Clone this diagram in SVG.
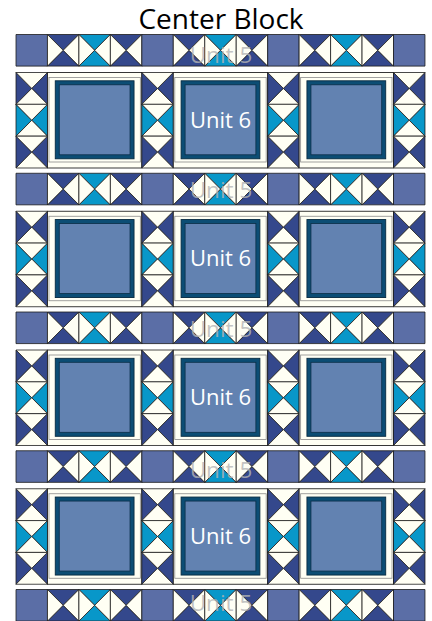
<svg xmlns="http://www.w3.org/2000/svg" xmlns:xlink="http://www.w3.org/1999/xlink" width="432" height="621" viewBox="0 0 432 621">
<style>
.cr{fill:#fffff4}
.nv{fill:#34488c}
.cy{fill:#0897c9}
.sq{fill:#5b6ea6}
.ln{stroke:#1c1c1c;stroke-width:0.8;stroke-linejoin:round}
.title{font-family:"Open Sans","Liberation Sans",sans-serif;font-size:28px;fill:#000;text-anchor:middle}
.u6{font-family:"Open Sans","Liberation Sans",sans-serif;font-size:22px;fill:#ffffff;text-anchor:middle}
.u5{font-family:"Open Sans","Liberation Sans",sans-serif;font-size:22.5px;fill:#b4b4b4;fill-opacity:0.8;text-anchor:middle}
</style>
<defs>
<g id="hN" class="ln">
<polygon class="nv" points="0,0 31.46,0 15.73,15.8"/>
<polygon class="nv" points="0,31.6 31.46,31.6 15.73,15.8"/>
<polygon class="cr" points="0,0 15.73,15.8 0,31.6"/>
<polygon class="cr" points="31.46,0 15.73,15.8 31.46,31.6"/>
</g>
<g id="hC" class="ln">
<polygon class="cy" points="0,0 31.46,0 15.73,15.8"/>
<polygon class="cy" points="0,31.6 31.46,31.6 15.73,15.8"/>
<polygon class="cr" points="0,0 15.73,15.8 0,31.6"/>
<polygon class="cr" points="31.46,0 15.73,15.8 31.46,31.6"/>
</g>
<rect id="sq" class="sq ln" x="0" y="0" width="31.46" height="31.6"/>
<g id="vN" class="ln">
<polygon class="nv" points="0,0 15.73,15.915 0,31.83"/>
<polygon class="nv" points="31.46,0 15.73,15.915 31.46,31.83"/>
<polygon class="cr" points="0,0 31.46,0 15.73,15.915"/>
<polygon class="cr" points="0,31.83 31.46,31.83 15.73,15.915"/>
</g>
<g id="vC" class="ln">
<polygon class="cy" points="0,0 15.73,15.915 0,31.83"/>
<polygon class="cy" points="31.46,0 15.73,15.915 31.46,31.83"/>
<polygon class="cr" points="0,0 31.46,0 15.73,15.915"/>
<polygon class="cr" points="0,31.83 31.46,31.83 15.73,15.915"/>
</g>
<g id="vcol">
<use xlink:href="#vN" href="#vN"/>
<use xlink:href="#vC" href="#vC" y="31.83"/>
<use xlink:href="#vN" href="#vN" y="63.66"/>
</g>
<g id="frame">
<rect x="0" y="0" width="94.38" height="95.5" fill="#fffff4" stroke="#222" stroke-width="0.9"/>
<rect x="1.5" y="5" width="91.38" height="84.5" fill="none" stroke="#8a8a8a" stroke-width="0.8"/>
<rect x="7.8" y="8.3" width="78.78" height="78" fill="#0c4d74" stroke="#062a40" stroke-width="0.9"/>
<rect x="11.8" y="12.3" width="70.78" height="70" fill="#6282b1" stroke="#0a2e48" stroke-width="0.8"/>
</g>
<g id="u5row">
<use xlink:href="#sq" href="#sq" x="0"/>
<use xlink:href="#hN" href="#hN" x="31.46"/>
<use xlink:href="#hC" href="#hC" x="62.92"/>
<use xlink:href="#hN" href="#hN" x="94.38"/>
<use xlink:href="#sq" href="#sq" x="125.84"/>
<use xlink:href="#hN" href="#hN" x="157.3"/>
<use xlink:href="#hC" href="#hC" x="188.76"/>
<use xlink:href="#hN" href="#hN" x="220.22"/>
<use xlink:href="#sq" href="#sq" x="251.68"/>
<use xlink:href="#hN" href="#hN" x="283.14"/>
<use xlink:href="#hC" href="#hC" x="314.6"/>
<use xlink:href="#hN" href="#hN" x="346.06"/>
<use xlink:href="#sq" href="#sq" x="377.52"/>
</g>
<g id="u6row">
<use xlink:href="#vcol" href="#vcol" x="0"/>
<use xlink:href="#frame" href="#frame" x="31.46"/>
<use xlink:href="#vcol" href="#vcol" x="125.84"/>
<use xlink:href="#frame" href="#frame" x="157.3"/>
<use xlink:href="#vcol" href="#vcol" x="251.68"/>
<use xlink:href="#frame" href="#frame" x="283.14"/>
<use xlink:href="#vcol" href="#vcol" x="377.52"/>
</g>
</defs>
<rect width="432" height="621" fill="#ffffff"/>
<g id="title"><text class="title" x="221" y="29">Center Block</text></g>
<g id="unit5-1" transform="translate(16,34.5)"><use xlink:href="#u5row" href="#u5row"/><text class="u5" x="205" y="28">Unit 5</text></g>
<g id="unit6-1" transform="translate(16,72.5)"><use xlink:href="#u6row" href="#u6row"/><text class="u6" x="204.5" y="55">Unit 6</text></g>
<g id="unit5-2" transform="translate(16,173.25)"><use xlink:href="#u5row" href="#u5row"/><text class="u5" x="205" y="25">Unit 5</text></g>
<g id="unit6-2" transform="translate(16,211.25)"><use xlink:href="#u6row" href="#u6row"/><text class="u6" x="204.5" y="55">Unit 6</text></g>
<g id="unit5-3" transform="translate(16,312)"><use xlink:href="#u5row" href="#u5row"/><text class="u5" x="205" y="25">Unit 5</text></g>
<g id="unit6-3" transform="translate(16,350)"><use xlink:href="#u6row" href="#u6row"/><text class="u6" x="204.5" y="55">Unit 6</text></g>
<g id="unit5-4" transform="translate(16,450.75)"><use xlink:href="#u5row" href="#u5row"/><text class="u5" x="205" y="27">Unit 5</text></g>
<g id="unit6-4" transform="translate(16,488.75)"><use xlink:href="#u6row" href="#u6row"/><text class="u6" x="204.5" y="55">Unit 6</text></g>
<g id="unit5-5" transform="translate(16,589.5)"><use xlink:href="#u5row" href="#u5row"/><text class="u5" x="205" y="21">Unit 5</text></g>
<g id="connectors"/>
</svg>
